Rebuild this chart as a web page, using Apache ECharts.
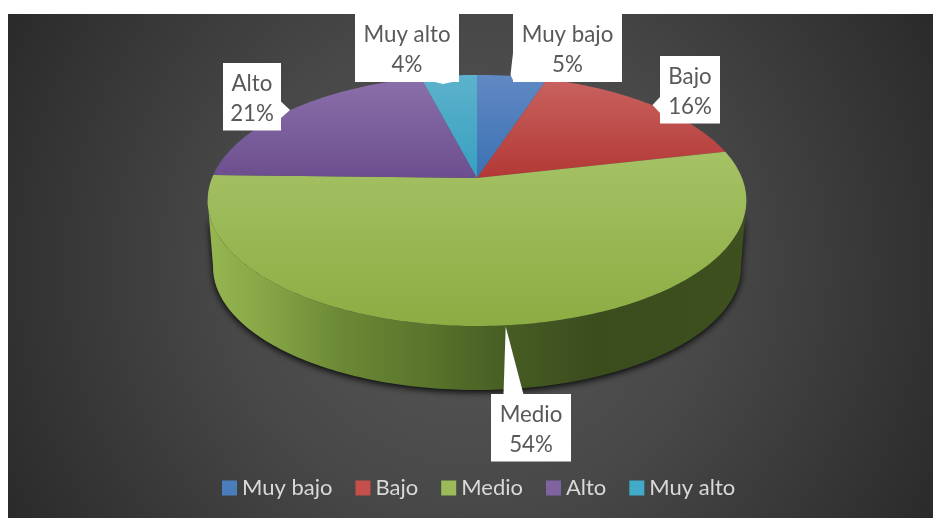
<!DOCTYPE html>
<html>
<head>
<meta charset="utf-8">
<style>html,body{margin:0;padding:0;background:#fff;overflow:hidden}#c{width:933px;height:518px}</style>
<script src="https://cdn.jsdelivr.net/npm/echarts@6/dist/echarts.min.js"></script>
</head>
<body>
<div id="c"></div>
<script>
const categories = ['Muy bajo', 'Bajo', 'Medio', 'Alto', 'Muy alto'];
const percentValues = [5.0, 16.4, 54.0, 20.6, 4.0];
const swatchColors = ['#4a7ebb', '#c64f4b', '#9bbb59', '#8064a2', '#42abc9'];
const faceTopColors = ['#6189c4', '#c9625f', '#a5c265', '#8b70ab', '#5db2cd'];
const faceBottomColors = ['#3b71b2', '#b23835', '#8cad43', '#6c4e8e', '#36a0bf'];

// projection of the tilted disc
const view = { cx: 477, cy: 178, rx: 265, ry: 121.5, k: 0.179, lowerCy: 245, lowerScale: 0.98 };
const calloutFont = '22.3px Lato, sans-serif';
const calloutTextShift = 2;
const callouts = [
  { box: [513, 14, 622, 82], tip: [[513, 53], [510.5, 75], [513, 80]] },
  { box: [660, 56, 720, 123.5], tip: [[660, 97], [652.5, 105], [660, 113]] },
  { box: [491, 394, 571, 461.5], tip: [[503.5, 394.5], [505.7, 326.5], [523.5, 394.5]] },
  { box: [223, 63, 281, 130.5], tip: [[281, 101.5], [290, 110], [281, 118]] },
  { box: [355, 14, 459, 82], tip: [[435, 82], [443, 84], [452, 82]] }
];

const total = percentValues.reduce((a, b) => a + b, 0);

function projectTop(deg) {
  const t = deg * Math.PI / 180, u = Math.sin(t), v = Math.cos(t), d = 1 + view.k * v;
  return [view.cx + view.rx * u / d, view.cy - view.ry * v / d];
}
function projectLower(deg) {
  const t = deg * Math.PI / 180, u = Math.sin(t), v = Math.cos(t), d = 1 + view.k * v;
  return [view.cx + view.rx * view.lowerScale * u / d, view.lowerCy - view.ry * view.lowerScale * v / d];
}
function arc(fn, a, b) {
  const out = [], n = Math.max(2, Math.ceil(Math.abs(b - a)));
  for (let i = 0; i <= n; i++) out.push(fn(a + (b - a) * i / n));
  return out;
}
function vGrad(c0, c1) {
  return new echarts.graphic.LinearGradient(0, 0, 0, 1, [{ offset: 0, color: c0 }, { offset: 1, color: c1 }]);
}
const wallGradient = {
  type: 'linear', global: true, x: 207, y: 0, x2: 746, y2: 0,
  colorStops: [
    { offset: 0, color: '#96b651' }, { offset: 0.1, color: '#88a847' }, { offset: 0.25, color: '#6b8935' },
    { offset: 0.42, color: '#58732b' }, { offset: 0.56, color: '#465c23' }, { offset: 0.72, color: '#3b4c1d' },
    { offset: 1, color: '#3f501f' }
  ]
};

function renderSlice(params, api) {
  const idx = params.seriesIndex;
  const value = api.value(0);
  let before = 0;
  for (let i = 0; i < idx; i++) before += percentValues[i];
  const a0 = before / total * 360, a1 = (before + value) / total * 360;
  const children = [];
  const wa = Math.max(a0, 100), wb = Math.min(a1, 260);
  if (wb > wa) {
    const top = arc(projectTop, wa, wb), low = arc(projectLower, wa, wb).reverse();
    children.push({
      type: 'polygon', z2: 1, shape: { points: top.concat(low) },
      style: { fill: wallGradient, shadowBlur: 7, shadowColor: 'rgba(0,0,0,0.95)', shadowOffsetY: 2 }
    });
  }
  children.push({
    type: 'polygon', z2: 2,
    shape: { points: [[view.cx, view.cy]].concat(arc(projectTop, a0, a1)) },
    style: { fill: vGrad(faceTopColors[idx], faceBottomColors[idx]) }
  });
  const c = callouts[idx], b = c.box;
  children.push({ type: 'polygon', z2: 10, shape: { points: c.tip }, style: { fill: '#fff' } });
  children.push({ type: 'rect', z2: 10, shape: { x: b[0], y: b[1], width: b[2] - b[0], height: b[3] - b[1] }, style: { fill: '#fff' } });
  children.push({
    type: 'text', z2: 11, x: (b[0] + b[2]) / 2, y: (b[1] + b[3]) / 2 + calloutTextShift,
    style: { text: categories[idx] + '\n' + Math.round(value) + '%', font: calloutFont, lineHeight: 29.5, fill: '#595959', align: 'center', verticalAlign: 'middle' }
  });
  return { type: 'group', children };
}

const chart = echarts.init(document.getElementById('c'), null, { renderer: 'canvas' });
chart.setOption({
  animation: false,
  backgroundColor: '#fff',
  graphic: [{
    type: 'rect', z: -10, silent: true,
    shape: { x: 8, y: 14, width: 925, height: 504 },
    style: {
      fill: new echarts.graphic.RadialGradient(0.5, 0.5, 1.05, [
        { offset: 0, color: '#585858' }, { offset: 0.46, color: '#484848' }, { offset: 1, color: '#2a2a2a' }
      ])
    }
  }],
  legend: {
    show: true, left: 222, top: 477, padding: 0, icon: 'rect', itemWidth: 15, itemHeight: 15, itemGap: 23,
    textStyle: { color: '#d9d9d9', fontFamily: 'Lato, sans-serif', fontSize: 22, padding: [0, 0, 0, 0] },
    data: categories
  },
  series: categories.map((name, i) => ({
    name, type: 'custom', coordinateSystem: 'none', clip: false, silent: true,
    itemStyle: { color: swatchColors[i] },
    data: [[percentValues[i]]],
    renderItem: renderSlice
  }))
});
</script>
</body>
</html>
